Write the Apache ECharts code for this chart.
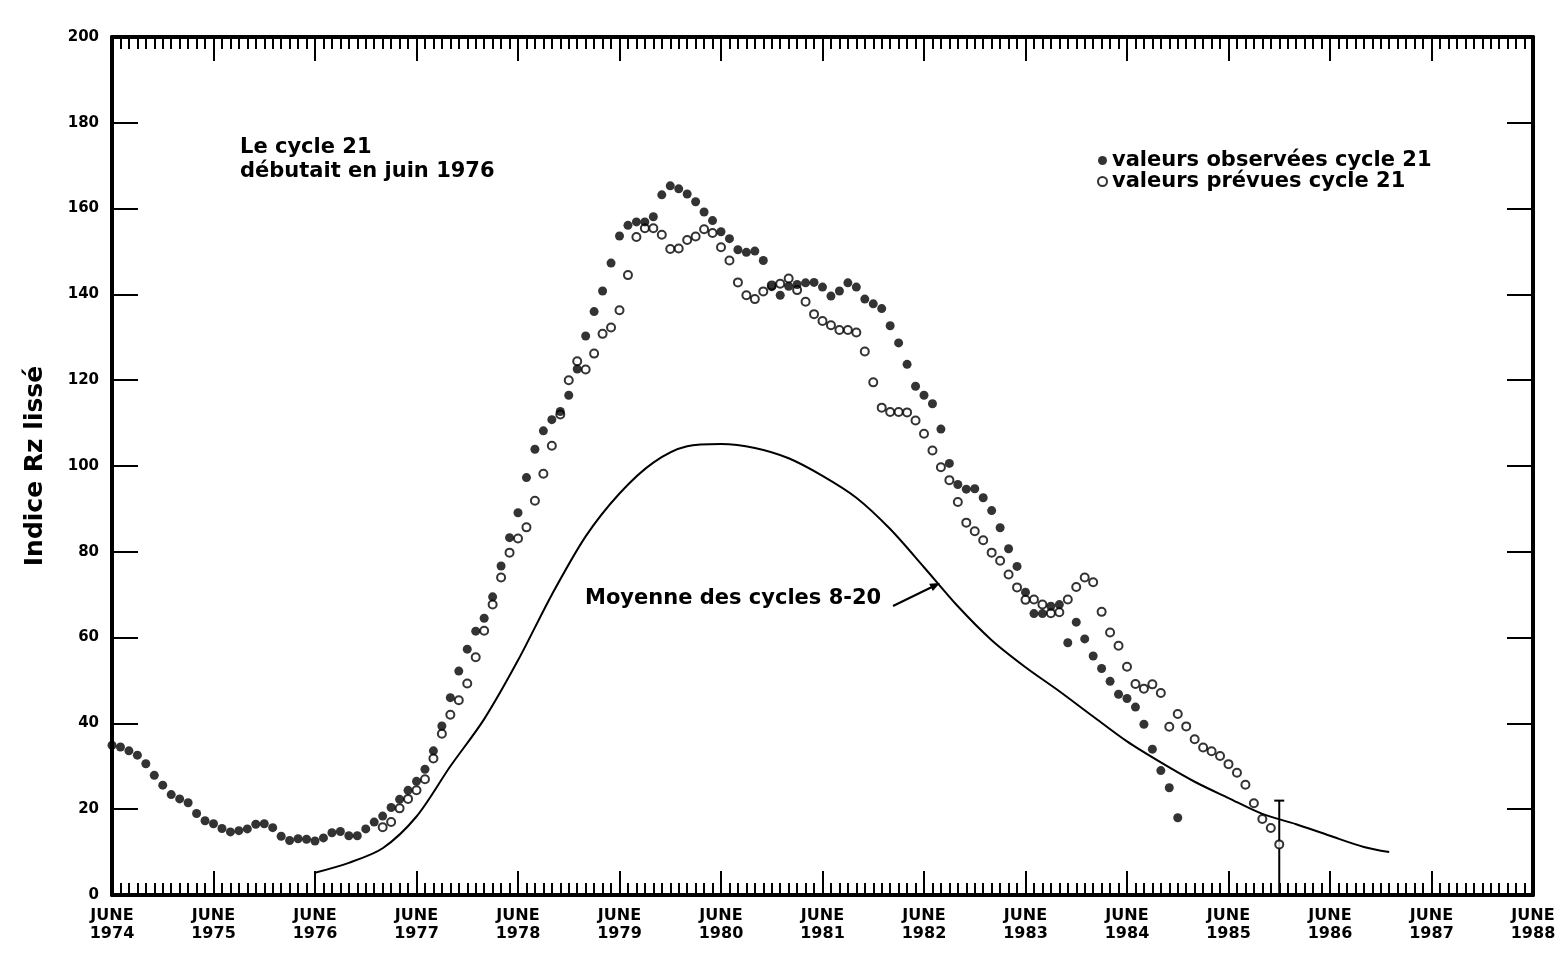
<!DOCTYPE html>
<html>
<head>
<meta charset="utf-8">
<script src="https://cdn.jsdelivr.net/npm/echarts@6/dist/echarts.min.js"></script>
<style>
  html, body { margin: 0; padding: 0; background: #fff; }
  #chart { width: 1561px; height: 965px; }
</style>
</head>
<body>
<div id="chart"></div>
<script>
// months are counted from June 1974 (= 0)
const yearLabels = ['1974', '1975', '1976', '1977', '1978', '1979', '1980', '1981',
  '1982', '1983', '1984', '1985', '1986', '1987', '1988'];

// smoothed Rz, observed, one value per month from June 1974
const observedStart = 0;
const observed = [
  34.9, 34.5, 33.6, 32.6, 30.6, 27.9, 25.6, 23.4, 22.4, 21.5,
  19.0, 17.3, 16.6, 15.5, 14.7, 15.0, 15.4, 16.5, 16.6, 15.7,
  13.7, 12.7, 13.1, 13.0, 12.6, 13.3, 14.5, 14.8, 13.8, 13.8,
  15.4, 17.0, 18.4, 20.4, 22.3, 24.4, 26.5, 29.3, 33.6, 39.4,
  46.0, 52.2, 57.3, 61.5, 64.5, 69.5, 76.7, 83.3, 89.1, 97.3,
  103.9, 108.2, 110.8, 112.7, 116.5, 122.6, 130.3, 136.0, 140.8, 147.3,
  153.6, 156.1, 156.9, 156.9, 158.1, 163.2, 165.3, 164.6, 163.4, 161.6,
  159.2, 157.2, 154.6, 153.0, 150.4, 149.8, 150.1, 147.9, 141.8, 139.8,
  141.9, 142.3, 142.7, 142.8, 141.7, 139.6, 140.8, 142.7, 141.7, 138.9,
  137.8, 136.7, 132.7, 128.7, 123.7, 118.6, 116.5, 114.5, 108.6, 100.6,
  95.7, 94.6, 94.7, 92.6, 89.6, 85.6, 80.7, 76.6, 70.6, 65.6,
  65.6, 67.3, 67.7, 58.8, 63.6, 59.7, 55.7, 52.8, 49.8, 46.8,
  45.8, 43.8, 39.8, 34.0, 29.0, 25.0, 18.0
];

// predicted values, one per month from February 1977
const predictedStart = 32;
const predicted = [
  15.8, 17.0, 20.2, 22.4, 24.4, 27.0, 31.8, 37.6,
  42.0, 45.4, 49.3, 55.4, 61.6, 67.7, 74.0, 79.8, 83.1, 85.7,
  91.9, 98.2, 104.7, 112.0, 120.0, 124.4, 122.5, 126.2, 130.8, 132.3,
  136.3, 144.5, 153.4, 155.4, 155.4, 153.9, 150.6, 150.7, 152.7, 153.5,
  155.2, 154.3, 151.0, 147.9, 142.8, 139.8, 138.9, 140.7, 142.1, 142.5,
  143.7, 141.0, 138.3, 135.4, 133.8, 132.8, 131.7, 131.7, 131.1, 126.7,
  119.5, 113.6, 112.6, 112.6, 112.5, 110.6, 107.5, 103.6, 99.7, 96.7,
  91.6, 86.8, 84.8, 82.7, 79.8, 77.9, 74.7, 71.7, 68.8, 68.9,
  67.7, 65.7, 65.9, 68.9, 71.8, 74.0, 72.9, 66.0, 61.2, 58.1,
  53.2, 49.2, 48.1, 49.1, 47.1, 39.2, 42.2, 39.3, 36.3, 34.4,
  33.5, 32.4, 30.5, 28.5, 25.7, 21.4, 17.7, 15.6, 11.8
];

// mean of cycles 8-20
const meanMonths = [24, 28, 32, 36, 40, 44, 48, 52, 56, 60, 64, 68, 72, 76, 80, 84,
  88, 92, 96, 100, 104, 108, 112, 116, 120, 124, 128, 132, 136, 140, 144, 148, 151];
const meanValues = [5.2, 7.5, 10.9, 18.3, 30.0, 41.0, 54.7, 70.0, 83.6, 93.6, 100.8,
  104.6, 105.1, 104.2, 101.8, 97.7, 92.6, 85.3, 76.4, 67.3, 59.4, 53.1, 47.5, 41.6,
  35.8, 30.9, 26.4, 22.6, 18.9, 16.5, 13.8, 11.2, 10.0];

// uncertainty bar on the last predicted value: [month, low, high]
const errorBar = [[138, 0, 22]];

const INK = '#000';
const FONT = 'DejaVu Sans';

const chart = echarts.init(document.getElementById('chart'));

const xCommon = {
  type: 'value',
  min: 0,
  max: 168,
  interval: 12,
  axisLine: { show: true, onZero: false, lineStyle: { color: INK, width: 4 } },
  axisTick: { show: true, inside: true, length: 24, lineStyle: { color: INK, width: 2 } },
  minorTick: { show: true, splitNumber: 12, length: 12, lineStyle: { color: INK, width: 2 } },
  splitLine: { show: false },
  minorSplitLine: { show: false }
};

const yCommon = {
  type: 'value',
  min: 0,
  max: 200,
  interval: 20,
  axisLine: { show: true, onZero: false, lineStyle: { color: INK, width: 4 } },
  axisTick: { show: true, inside: true, length: 26, lineStyle: { color: INK, width: 2 } },
  splitLine: { show: false }
};

chart.setOption({
  animation: false,
  backgroundColor: '#fff',
  textStyle: { fontFamily: FONT, color: INK },
  grid: { left: 112, right: 28, top: 37, bottom: 70 },
  legend: {
    orient: 'vertical',
    left: 1092,
    top: 145,
    itemGap: 0,
    itemWidth: 9,
    itemHeight: 9,
    data: ['valeurs observées cycle 21', 'valeurs prévues cycle 21'],
    textStyle: { fontFamily: FONT, fontWeight: 'bold', fontSize: 21, color: INK }
  },
  xAxis: [
    Object.assign({}, xCommon, {
      position: 'bottom',
      axisLabel: {
        show: true,
        margin: 12,
        showMaxLabel: true,
        fontFamily: FONT,
        fontWeight: 'bold',
        fontSize: 16,
        lineHeight: 18,
        color: INK,
        formatter: (v) => 'JUNE\n' + yearLabels[Math.round(v / 12)]
      }
    }),
    Object.assign({}, xCommon, {
      position: 'top',
      axisLabel: { show: false }
    })
  ],
  yAxis: [
    Object.assign({}, yCommon, {
      position: 'left',
      name: 'Indice Rz lissé',
      nameLocation: 'middle',
      nameGap: 64,
      nameRotate: 90,
      nameTextStyle: { fontFamily: FONT, fontWeight: 'bold', fontSize: 25, color: INK },
      axisLabel: {
        margin: 13,
        fontFamily: FONT,
        fontWeight: 'bold',
        fontSize: 15,
        color: INK
      }
    }),
    Object.assign({}, yCommon, {
      position: 'right',
      axisLabel: { show: false }
    })
  ],
  series: [
    {
      name: 'moyenne',
      type: 'line',
      smooth: 0.3,
      showSymbol: false,
      data: meanMonths.map((m, i) => [m, meanValues[i]]),
      lineStyle: { color: INK, width: 2 },
      z: 1
    },
    {
      name: 'valeurs prévues cycle 21',
      type: 'scatter',
      symbol: 'circle',
      symbolSize: 8,
      data: predicted.map((v, i) => [predictedStart + i, v]),
      itemStyle: { color: '#fff', borderColor: INK, borderWidth: 2 },
      z: 3
    },
    {
      name: 'valeurs observées cycle 21',
      type: 'scatter',
      symbol: 'circle',
      symbolSize: 9,
      data: observed.map((v, i) => [observedStart + i, v]),
      itemStyle: { color: INK },
      z: 4
    },
    {
      name: 'incertitude',
      type: 'custom',
      data: errorBar,
      encode: { x: 0, y: [1, 2] },
      renderItem: (params, api) => {
        const base = api.coord([api.value(0), api.value(1)]);
        const top = api.coord([api.value(0), api.value(2)]);
        return {
          type: 'group',
          children: [
            { type: 'line', shape: { x1: base[0], y1: base[1], x2: top[0], y2: top[1] },
              style: { stroke: INK, lineWidth: 2 } },
            { type: 'line', shape: { x1: top[0] - 5, y1: top[1], x2: top[0] + 5, y2: top[1] },
              style: { stroke: INK, lineWidth: 2 } }
          ]
        };
      },
      z: 2
    }
  ],
  graphic: [
    {
      type: 'text',
      left: 240,
      top: 136,
      style: {
        text: 'Le cycle 21\ndébutait en juin 1976',
        font: 'bold 21px "DejaVu Sans"',
        lineHeight: 24,
        fill: INK
      }
    },
    {
      type: 'text',
      left: 585,
      top: 588,
      style: {
        text: 'Moyenne des cycles 8-20',
        font: 'bold 21px "DejaVu Sans"',
        fill: INK
      }
    },
    {
      type: 'polyline',
      shape: { points: [[893, 606], [934, 586]] },
      style: { stroke: INK, lineWidth: 2, fill: null }
    },
    {
      type: 'polygon',
      shape: { points: [[940, 583], [932.8, 591], [929.2, 583.8]] },
      style: { fill: INK }
    }
  ]
});
</script>
</body>
</html>
